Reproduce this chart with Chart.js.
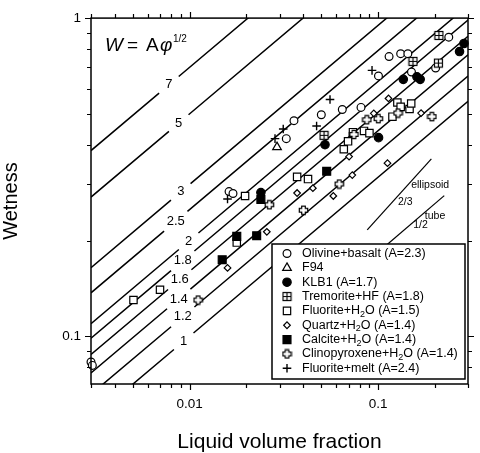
<!DOCTYPE html>
<html>
<head>
<meta charset="utf-8">
<script src="https://cdn.jsdelivr.net/npm/chart.js@4.4.0/dist/chart.umd.min.js"></script>
<style>
html, body { margin: 0; padding: 0; background: #fff; }
#wrap { width: 480px; height: 453px; }
</style>
</head>
<body>
<div id="wrap"><canvas id="chart" width="480" height="453"></canvas></div>
<script>
// axis ranges and ticks
const xRange = [0.003, 0.3];
const yRange = [0.0708, 1];
const xTickValues = [0.003, 0.004, 0.005, 0.006, 0.007, 0.008, 0.009, 0.01, 0.02, 0.03, 0.04, 0.05, 0.06, 0.07, 0.08, 0.09, 0.1, 0.2, 0.3];
const yTickValues = [0.08, 0.09, 0.1, 0.2, 0.3, 0.4, 0.5, 0.6, 0.7, 0.8, 0.9, 1];
const xLabelled = [0.01, 0.1];
const yLabelled = [0.1, 1];

// model lines W = A * phi^(1/2)
const wetnessA = [1, 1.2, 1.4, 1.6, 1.8, 2, 2.5, 3, 5, 7];
const wetnessLabels = ['1', '1.2', '1.4', '1.6', '1.8', '2', '2.5', '3', '5', '7'];
const wetnessLabelX = [0.00931, 0.0092, 0.00876, 0.00887, 0.0092, 0.00989, 0.00845, 0.00898, 0.00876, 0.00777];

// short slope guides
const ellipsoidLine = [[0.0876, 0.216], [0.1918, 0.361]];
const tubeLine = [[0.1075, 0.1905], [0.2245, 0.2767]];

// measured points [liquid volume fraction, wetness]
const olivineBasalt = [[0.0030, 0.083], [0.00305, 0.081], [0.0162, 0.285], [0.0170, 0.281], [0.0358, 0.476], [0.0326, 0.418], [0.0500, 0.497], [0.0646, 0.516], [0.0812, 0.524], [0.1005, 0.658], [0.1144, 0.757], [0.1318, 0.773], [0.1439, 0.773], [0.1504, 0.677], [0.2020, 0.697], [0.2372, 0.871]];
const f94 = [[0.0291, 0.393]];
const klb1 = [[0.0239, 0.283], [0.0523, 0.400], [0.1006, 0.421], [0.1361, 0.642], [0.1607, 0.654], [0.1673, 0.642], [0.2705, 0.785], [0.2856, 0.832]];
const tremoriteHF = [[0.0517, 0.428], [0.1532, 0.731], [0.2090, 0.722], [0.2103, 0.882]];
const fluoriteH2O = [[0.00504, 0.130], [0.00697, 0.140], [0.0197, 0.276], [0.0178, 0.197], [0.0372, 0.317], [0.0425, 0.312], [0.0658, 0.387], [0.0693, 0.410], [0.0736, 0.438], [0.0842, 0.442], [0.0900, 0.435], [0.1192, 0.490], [0.1266, 0.543], [0.1318, 0.526], [0.1469, 0.518], [0.1499, 0.539]];
const quartzH2O = [[0.0159, 0.164], [0.0257, 0.213], [0.0372, 0.282], [0.0451, 0.292], [0.0579, 0.276], [0.0730, 0.321], [0.0702, 0.367], [0.0949, 0.502], [0.1136, 0.559], [0.1122, 0.350], [0.1691, 0.503]];
const calciteH2O = [[0.0149, 0.174], [0.0178, 0.206], [0.0227, 0.207], [0.0239, 0.269], [0.0534, 0.330]];
const clinopyroxeneH2O = [[0.0111, 0.130], [0.0265, 0.259], [0.0402, 0.249], [0.0622, 0.301], [0.0745, 0.431], [0.0872, 0.479], [0.1003, 0.483], [0.1276, 0.503], [0.1930, 0.490]];
const fluoriteMelt = [[0.0159, 0.270], [0.0284, 0.418], [0.0314, 0.448], [0.0472, 0.458], [0.0556, 0.555], [0.0929, 0.685]];

const FONT = '"Liberation Sans", Arial, Helvetica, sans-serif';

function makeMarker(size, draw) {
    const c = document.createElement('canvas');
    c.width = size;
    c.height = size;
    const g = c.getContext('2d');
    g.strokeStyle = '#000';
    g.fillStyle = '#fff';
    g.lineWidth = 1.2;
    draw(g, size / 2);
    return c;
}

// boxed plus for Tremorite
const boxPlus = makeMarker(11, function(g, c) {
    g.fillRect(1.5, 1.5, 8, 8);
    g.strokeRect(1.5, 1.5, 8, 8);
    g.beginPath();
    g.moveTo(c, 1.5); g.lineTo(c, 9.5);
    g.moveTo(1.5, c); g.lineTo(9.5, c);
    g.stroke();
});

// outlined greek cross for Clinopyroxene
const openCross = makeMarker(11, function(g, c) {
    const a = 1.8, b = 4.2;
    g.beginPath();
    g.moveTo(c - a, c - b); g.lineTo(c + a, c - b); g.lineTo(c + a, c - a);
    g.lineTo(c + b, c - a); g.lineTo(c + b, c + a); g.lineTo(c + a, c + a);
    g.lineTo(c + a, c + b); g.lineTo(c - a, c + b); g.lineTo(c - a, c + a);
    g.lineTo(c - b, c + a); g.lineTo(c - b, c - a); g.lineTo(c - a, c - a);
    g.closePath();
    g.fill();
    g.stroke();
});

function toPoints(pairs) {
    return pairs.map(p => ({ x: p[0], y: p[1] }));
}

const series = [
    { name: 'Olivine+basalt (A=2.3)', data: olivineBasalt, style: 'circle', radius: 3.9, fill: '#fff' },
    { name: 'F94', data: f94, style: 'triangle', radius: 5, fill: '#fff' },
    { name: 'KLB1 (A=1.7)', data: klb1, style: 'circle', radius: 4.2, fill: '#000' },
    { name: 'Tremorite+HF (A=1.8)', data: tremoriteHF, style: boxPlus, radius: 5, fill: '#fff' },
    { name: 'Fluorite+H2O (A=1.5)', data: fluoriteH2O, style: 'rect', radius: 5.2, fill: '#fff' },
    { name: 'Quartz+H2O (A=1.4)', data: quartzH2O, style: 'rectRot', radius: 3.3, fill: '#fff' },
    { name: 'Calcite+H2O (A=1.4)', data: calciteH2O, style: 'rect', radius: 5.6, fill: '#000' },
    { name: 'Clinopyroxene+H2O (A=1.4)', data: clinopyroxeneH2O, style: openCross, radius: 5, fill: '#fff' },
    { name: 'Fluorite+melt (A=2.4)', data: fluoriteMelt, style: 'cross', radius: 4.3, fill: '#000' }
];

const datasets = [];

wetnessA.forEach(function(A, i) {
    const lx = wetnessLabelX[i];
    const half = wetnessLabels[i].length > 1 ? 0.062 : 0.052;
    const g = Math.pow(10, half);
    datasets.push({
        data: [
            { x: xRange[0], y: A * Math.sqrt(xRange[0]) },
            { x: lx / g, y: A * Math.sqrt(lx / g) },
            { x: lx, y: null },
            { x: lx * g, y: A * Math.sqrt(lx * g) },
            { x: xRange[1], y: A * Math.sqrt(xRange[1]) }
        ],
        showLine: true,
        spanGaps: false,
        borderColor: '#000',
        borderWidth: 1.5,
        pointRadius: 0,
        order: 20
    });
});

[ellipsoidLine, tubeLine].forEach(function(seg) {
    datasets.push({
        data: toPoints(seg),
        showLine: true,
        borderColor: '#000',
        borderWidth: 1.2,
        pointRadius: 0,
        order: 20
    });
});

series.forEach(function(s, i) {
    datasets.push({
        label: s.name,
        data: toPoints(s.data),
        pointStyle: s.style,
        pointRadius: s.radius,
        pointBackgroundColor: s.fill,
        pointBorderColor: '#000',
        pointBorderWidth: s.style === 'cross' ? 1.4 : 1.2,
        showLine: false,
        clip: false,
        order: 10 - i
    });
});

function isLabelled(v, list) {
    return list.some(t => Math.abs(v / t - 1) < 1e-6);
}

function labelFor(v, list) {
    const hit = list.find(t => Math.abs(v / t - 1) < 1e-6);
    return hit === undefined ? '' : String(hit);
}

// border box and outward ticks on all four sides
const frameTicks = {
    id: 'frameTicks',
    afterDatasetsDraw(chart) {
        const { ctx, chartArea: a, scales: { x, y } } = chart;
        ctx.save();
        ctx.strokeStyle = '#000';
        ctx.lineWidth = 1.2;
        ctx.beginPath();
        xTickValues.forEach(function(v) {
            const px = Math.round(x.getPixelForValue(v)) + 0.5;
            const len = isLabelled(v, xLabelled) ? 6 : 4;
            ctx.moveTo(px, a.bottom); ctx.lineTo(px, a.bottom + len);
            ctx.moveTo(px, a.top); ctx.lineTo(px, a.top - len);
        });
        yTickValues.forEach(function(v) {
            const py = Math.round(y.getPixelForValue(v)) + 0.5;
            const len = isLabelled(v, yLabelled) ? 6 : 4;
            ctx.moveTo(a.left, py); ctx.lineTo(a.left - len, py);
            ctx.moveTo(a.right, py); ctx.lineTo(a.right + len, py);
        });
        ctx.stroke();
        ctx.lineWidth = 1.5;
        ctx.strokeRect(a.left, a.top, a.right - a.left, a.bottom - a.top);
        ctx.restore();
    }
};

// A values on the lines, slope guide labels, formula
const annotations = {
    id: 'annotations',
    afterDatasetsDraw(chart) {
        const { ctx, scales: { x, y } } = chart;
        ctx.save();
        ctx.fillStyle = '#000';
        ctx.textAlign = 'center';
        ctx.textBaseline = 'middle';
        ctx.font = '13px ' + FONT;
        wetnessA.forEach(function(A, i) {
            const lx = wetnessLabelX[i];
            ctx.fillText(wetnessLabels[i], x.getPixelForValue(lx), y.getPixelForValue(A * Math.sqrt(lx)));
        });

        ctx.font = '10.5px ' + FONT;
        ctx.textAlign = 'left';
        ctx.fillText('ellipsoid', x.getPixelForValue(0.1499), y.getPixelForValue(0.299));
        ctx.textAlign = 'center';
        ctx.fillText('2/3', x.getPixelForValue(0.1394), y.getPixelForValue(0.2642));
        ctx.fillText('tube', x.getPixelForValue(0.2005), y.getPixelForValue(0.2378));
        ctx.fillText('1/2', x.getPixelForValue(0.1678), y.getPixelForValue(0.2233));

        // W = A phi^(1/2)
        ctx.textAlign = 'left';
        ctx.textBaseline = 'alphabetic';
        const base = 51;
        ctx.font = 'italic 19px ' + FONT;
        ctx.fillText('W', 105, base);
        ctx.font = '19px ' + FONT;
        ctx.fillText('=', 127, base);
        ctx.fillText('A', 146, base);
        ctx.font = 'italic 19px ' + FONT;
        ctx.fillText('\u03C6', 160, base);
        ctx.font = '10px ' + FONT;
        ctx.fillText('1/2', 173, base - 9);
        ctx.restore();
    }
};

function drawRich(ctx, text, x, y, size) {
    const parts = text.split(/(H2O)/);
    let cx = x;
    parts.forEach(function(p) {
        if (p === 'H2O') {
            ctx.font = size + 'px ' + FONT;
            ctx.fillText('H', cx, y);
            cx += ctx.measureText('H').width;
            ctx.font = (size * 0.72) + 'px ' + FONT;
            ctx.fillText('2', cx, y + 3.5);
            cx += ctx.measureText('2').width;
            ctx.font = size + 'px ' + FONT;
            ctx.fillText('O', cx, y);
            cx += ctx.measureText('O').width;
        } else if (p) {
            ctx.font = size + 'px ' + FONT;
            ctx.fillText(p, cx, y);
            cx += ctx.measureText(p).width;
        }
    });
}

// boxed legend in the lower right
const legendBox = {
    id: 'legendBox',
    afterDraw(chart) {
        const { ctx } = chart;
        const left = 272, top = 244, w = 193, h = 135;
        ctx.save();
        ctx.fillStyle = '#fff';
        ctx.fillRect(left, top, w, h);
        ctx.strokeStyle = '#000';
        ctx.lineWidth = 1.5;
        ctx.strokeRect(left, top, w, h);
        ctx.textAlign = 'left';
        ctx.textBaseline = 'middle';
        series.forEach(function(s, i) {
            const cy = top + 9.5 + i * 14.35;
            ctx.fillStyle = s.fill;
            ctx.strokeStyle = '#000';
            ctx.lineWidth = s.style === 'cross' ? 1.4 : 1.2;
            Chart.helpers.drawPoint(ctx, { pointStyle: s.style, radius: s.radius, rotation: 0, borderWidth: ctx.lineWidth }, left + 15, cy);
            ctx.fillStyle = '#000';
            drawRich(ctx, s.name, left + 30, cy, 12.5);
        });
        ctx.restore();
    }
};

new Chart(document.getElementById('chart').getContext('2d'), {
    type: 'scatter',
    data: { datasets: datasets },
    options: {
        responsive: false,
        animation: false,
        layout: { padding: { top: 6, right: 6.7, left: 0, bottom: 0 } },
        plugins: {
            legend: { display: false },
            tooltip: { enabled: false }
        },
        scales: {
            x: {
                type: 'logarithmic',
                min: xRange[0],
                max: xRange[1],
                grid: { display: false, drawTicks: false },
                border: { display: false },
                ticks: {
                    autoSkip: false,
                    maxRotation: 0,
                    padding: 12,
                    color: '#000',
                    font: { family: FONT, size: 13.5 },
                    callback: function(v) { return labelFor(v, xLabelled); }
                },
                title: {
                    display: true,
                    text: 'Liquid volume fraction',
                    color: '#000',
                    font: { family: FONT, size: 21, lineHeight: 1 },
                    padding: 0
                },
                afterFit: function(s) { s.height = 69; }
            },
            y: {
                type: 'logarithmic',
                min: yRange[0],
                max: yRange[1],
                grid: { display: false, drawTicks: false },
                border: { display: false },
                ticks: {
                    autoSkip: false,
                    padding: 10,
                    color: '#000',
                    font: { family: FONT, size: 13.5 },
                    callback: function(v) { return labelFor(v, yLabelled); }
                },
                title: {
                    display: true,
                    text: 'Wetness',
                    color: '#000',
                    font: { family: FONT, size: 20, lineHeight: 1 },
                    padding: { top: 1, bottom: 0 }
                },
                afterFit: function(s) { s.width = 91; }
            }
        }
    },
    plugins: [frameTicks, annotations, legendBox]
});
</script>
</body>
</html>
